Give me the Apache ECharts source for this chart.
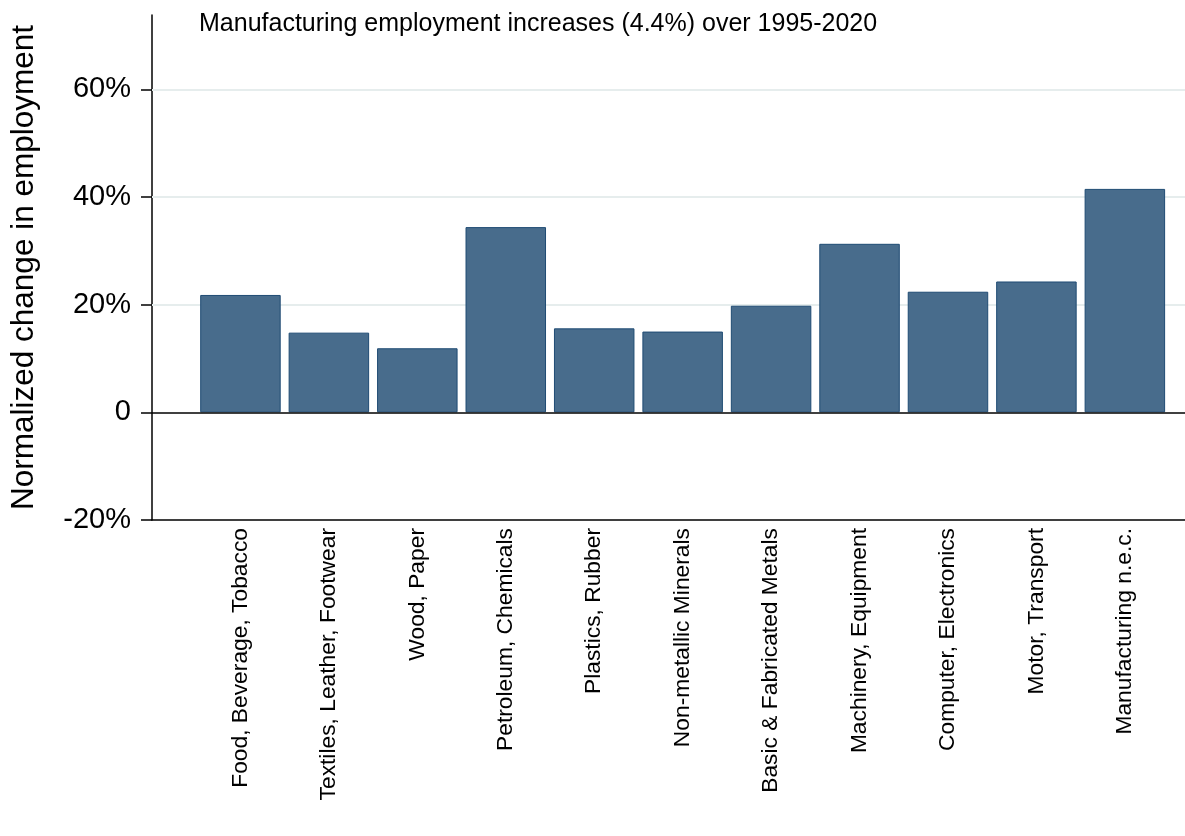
<!DOCTYPE html>
<html>
<head>
<meta charset="utf-8">
<script src="https://cdn.jsdelivr.net/npm/echarts@6/dist/echarts.min.js"></script>
<style>
html,body{margin:0;padding:0;background:#fff;}
#chart{width:1185px;height:836px;}
</style>
</head>
<body>
<div id="chart"></div>
<script>
const categories = [
  "Food, Beverage, Tobacco",
  "Textiles, Leather, Footwear",
  "Wood, Paper",
  "Petroleum, Chemicals",
  "Plastics, Rubber",
  "Non-metallic Minerals",
  "Basic & Fabricated Metals",
  "Machinery, Equipment",
  "Computer, Electronics",
  "Motor, Transport",
  "Manufacturing n.e.c."
];
const values = [21.8, 14.8, 11.9, 34.4, 15.6, 15.0, 19.8, 31.3, 22.4, 24.3, 41.5];
const yTicks = [-20, 0, 20, 40, 60];
const gridValues = [20, 40, 60];
const titleText = "Manufacturing employment increases (4.4%) over 1995-2020";
const yTitle = "Normalized change in employment";

const FONT = "'Liberation Sans', Arial, Helvetica, sans-serif";
const chart = echarts.init(document.getElementById('chart'), null, {renderer: 'canvas'});
const barData = categories.map((c, i) => [i, values[i]]);

chart.setOption({
  animation: false,
  backgroundColor: '#ffffff',
  title: {
    text: titleText,
    left: 194,
    top: 7,
    textStyle: {fontFamily: FONT, fontSize: 25, fontWeight: 'normal', color: '#000'}
  },
  grid: {left: 150, right: 0, top: 15, bottom: 316, containLabel: false},
  xAxis: {
    type: 'value',
    min: -1,
    max: 10.68,
    interval: 1,
    splitLine: {show: false},
    axisLine: {show: true, onZero: false, lineStyle: {color: '#000', width: 1.5}},
    axisTick: {show: false},
    axisLabel: {
      customValues: categories.map((c, i) => i),
      rotate: 90,
      margin: 8,
      fontFamily: FONT,
      fontSize: 22.8,
      color: '#000',
      formatter: v => categories[Math.round(v)] || ''
    }
  },
  yAxis: {
    type: 'value',
    min: -20,
    max: 73.8,
    interval: 20,
    name: yTitle,
    nameLocation: 'middle',
    nameGap: 112,
    nameTextStyle: {fontFamily: FONT, fontSize: 31.5, color: '#000'},
    splitLine: {show: false},
    axisLine: {show: true, onZero: false, lineStyle: {color: '#000', width: 1.5}},
    axisTick: {show: true, customValues: yTicks, length: 11, lineStyle: {color: '#000', width: 1.5}},
    axisLabel: {
      customValues: yTicks,
      margin: 21,
      fontFamily: FONT,
      fontSize: 29,
      color: '#000',
      formatter: v => v === 0 ? '0' : v + '%'
    }
  },
  series: [
    {
      type: 'line',
      data: barData,
      symbol: 'none',
      lineStyle: {opacity: 0},
      silent: true,
      z: 1,
      markLine: {
        silent: true,
        symbol: ['none', 'none'],
        label: {show: false},
        z: 1,
        lineStyle: {color: '#e6eded', width: 2, type: 'solid'},
        data: gridValues.map(v => ({yAxis: v}))
      }
    },
    {
      type: 'bar',
      data: barData,
      barWidth: 80.5,
      z: 2,
      itemStyle: {color: '#486c8c', borderColor: '#1f4b73', borderWidth: 1},
      markLine: {
        silent: true,
        symbol: ['none', 'none'],
        label: {show: false},
        z: 3,
        lineStyle: {color: '#000', width: 1.5, type: 'solid'},
        data: [{yAxis: 0}]
      }
    }
  ]
});
</script>
</body>
</html>
